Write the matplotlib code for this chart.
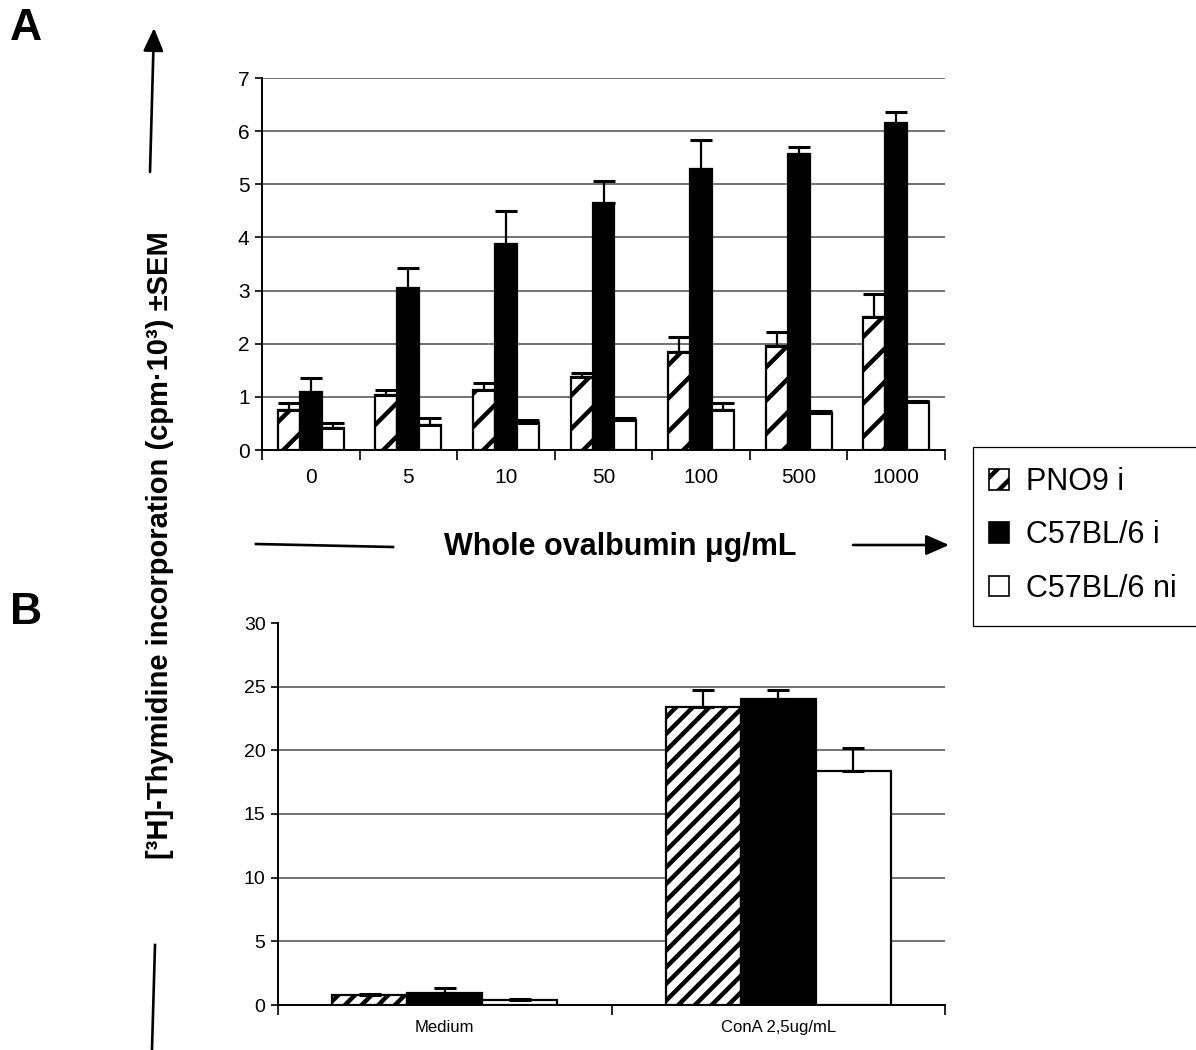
import matplotlib
matplotlib.use('Agg')
import matplotlib.pyplot as plt
from matplotlib.patches import Patch, FancyArrowPatch, Rectangle
from matplotlib.lines import Line2D
import numpy as np

plt.rcParams['font.family'] = ['Liberation Sans', 'DejaVu Sans']
plt.rcParams['hatch.linewidth'] = 1.6
plt.rcParams['hatch.color'] = 'black'

# ---------------- data ----------------
series_names = ['PNO9 i', 'C57BL/6 i', 'C57BL/6 ni']

doses = ['0', '5', '10', '50', '100', '500', '1000']
pno9_i = [0.75, 1.03, 1.13, 1.37, 1.85, 1.95, 2.50]
pno9_i_sem = [0.13, 0.09, 0.13, 0.08, 0.27, 0.27, 0.43]
c57_i = [1.10, 3.05, 3.88, 4.65, 5.28, 5.57, 6.15]
c57_i_sem = [0.26, 0.38, 0.62, 0.42, 0.55, 0.13, 0.21]
c57_ni = [0.42, 0.47, 0.51, 0.57, 0.75, 0.70, 0.90]
c57_ni_sem = [0.09, 0.13, 0.05, 0.03, 0.14, 0.04, 0.02]

stimuli = ['Medium', 'ConA 2,5ug/mL']
b_pno9_i = [0.80, 23.4]
b_pno9_i_sem = [0.10, 1.3]
b_c57_i = [0.97, 24.0]
b_c57_i_sem = [0.40, 0.7]
b_c57_ni = [0.40, 18.4]
b_c57_ni_sem = [0.05, 1.8]

ylabel = '[³H]-Thymidine incorporation (cpm·10³) ±SEM'
xlabel = 'Whole ovalbumin μg/mL'

# ---------------- figure ----------------
W, H = 1196, 1050
DPI = 200
fig = plt.figure(figsize=(W / DPI, H / DPI), dpi=DPI)


def fx(px):
    return px / W


def fy(py):
    return 1 - py / H


axA = fig.add_axes([fx(262), fy(450), fx(945) - fx(262), fy(78) - fy(450)])
axB = fig.add_axes([fx(278), fy(1005), fx(945) - fx(278), fy(623) - fy(1005)])


def draw(ax, cats, series, errs, hatch, ymax, ystep, xfs, yfs, xpad, hide_top_grid):
    n = len(cats)
    x = np.arange(n)
    w = 0.225
    styles = [dict(facecolor='white', hatch=hatch),
              dict(facecolor='black'),
              dict(facecolor='white')]
    for i, (vals, err) in enumerate(zip(series, errs)):
        xi = x + (i - 1) * w
        ax.bar(xi, vals, w, edgecolor='black', linewidth=0.8, zorder=3, **styles[i])
        ax.errorbar(xi, vals, yerr=[np.zeros(n), err], fmt='none', ecolor='black',
                    elinewidth=0.8, capsize=4, capthick=1.1, zorder=4)
    ax.set_xlim(-0.5, n - 0.5)
    ax.set_ylim(0, ymax)
    ax.set_yticks(np.arange(0, ymax + 0.001, ystep))
    ax.set_xticks(x)
    ax.set_xticklabels(cats, fontsize=xfs)
    ax.set_xticks(np.arange(-0.5, n, 1.0), minor=True)
    ax.tick_params(axis='x', which='major', length=0, pad=xpad)
    ax.tick_params(axis='x', which='minor', length=3.6, width=0.6, direction='out')
    ax.tick_params(axis='y', length=2.5, width=0.6, pad=2, labelsize=yfs)
    for s in ['top', 'right']:
        ax.spines[s].set_visible(False)
    for s in ['left', 'bottom']:
        ax.spines[s].set_linewidth(0.7)
        ax.spines[s].set_zorder(5)
    ax.set_axisbelow(True)
    ax.yaxis.grid(True, color='0.3', linewidth=0.55)
    if hide_top_grid:
        ax.yaxis.get_gridlines()[-1].set_visible(False)


draw(axA, doses, [pno9_i, c57_i, c57_ni], [pno9_i_sem, c57_i_sem, c57_ni_sem],
     '//', 7, 1, 7.5, 7.5, 6.5, False)
draw(axB, stimuli, [b_pno9_i, b_c57_i, b_c57_ni], [b_pno9_i_sem, b_c57_i_sem, b_c57_ni_sem],
     '////', 30, 5, 6, 7, 5.4, True)

# legend (frame drawn separately so that it runs off the right edge like the original)
fig.add_artist(Rectangle((fx(973), fy(626)), fx(1240) - fx(973), fy(447) - fy(626),
                         transform=fig.transFigure, facecolor='white',
                         edgecolor='black', linewidth=0.45, zorder=1))
handles = [Patch(facecolor='white', edgecolor='black', hatch='///', linewidth=0.6),
           Patch(facecolor='black', edgecolor='black', linewidth=0.6),
           Patch(facecolor='white', edgecolor='black', linewidth=0.6)]
leg = fig.legend(handles, series_names, loc='upper left',
                 bbox_to_anchor=(fx(983), fy(461)), bbox_transform=fig.transFigure,
                 frameon=False, fontsize=11,
                 handlelength=0.65, handleheight=0.65, handletextpad=0.55,
                 labelspacing=0.76, borderpad=0.2, borderaxespad=0)
leg.set_zorder(2)

# labels
fig.text(fx(160), fy(545), ylabel, rotation=90, fontweight='bold', fontsize=10.5,
         ha='center', va='center')
fig.text(fx(620), fy(547), xlabel, fontweight='bold', fontsize=11,
         ha='center', va='center')
fig.text(fx(26), fy(29), 'A', fontweight='bold', fontsize=16, ha='center', va='center')
fig.text(fx(26), fy(612), 'B', fontweight='bold', fontsize=16, ha='center', va='center')

# arrows and lines
astyle = '-|>,head_length=0.5,head_width=0.22'
fig.add_artist(FancyArrowPatch((fx(150), fy(172)), (fx(154), fy(28)),
                               transform=fig.transFigure, arrowstyle=astyle,
                               mutation_scale=14, lw=0.95, color='black',
                               shrinkA=0, shrinkB=0))
fig.add_artist(FancyArrowPatch((fx(853), fy(545)), (fx(949), fy(545)),
                               transform=fig.transFigure, arrowstyle=astyle,
                               mutation_scale=14, lw=0.95, color='black',
                               shrinkA=0, shrinkB=0))
fig.add_artist(Line2D([fx(256), fx(393)], [fy(544), fy(547)], transform=fig.transFigure,
                      color='black', lw=0.95))
fig.add_artist(Line2D([fx(155), fx(152)], [fy(945), fy(1049)], transform=fig.transFigure,
                      color='black', lw=0.95))

fig.savefig('out.png', dpi=DPI)
